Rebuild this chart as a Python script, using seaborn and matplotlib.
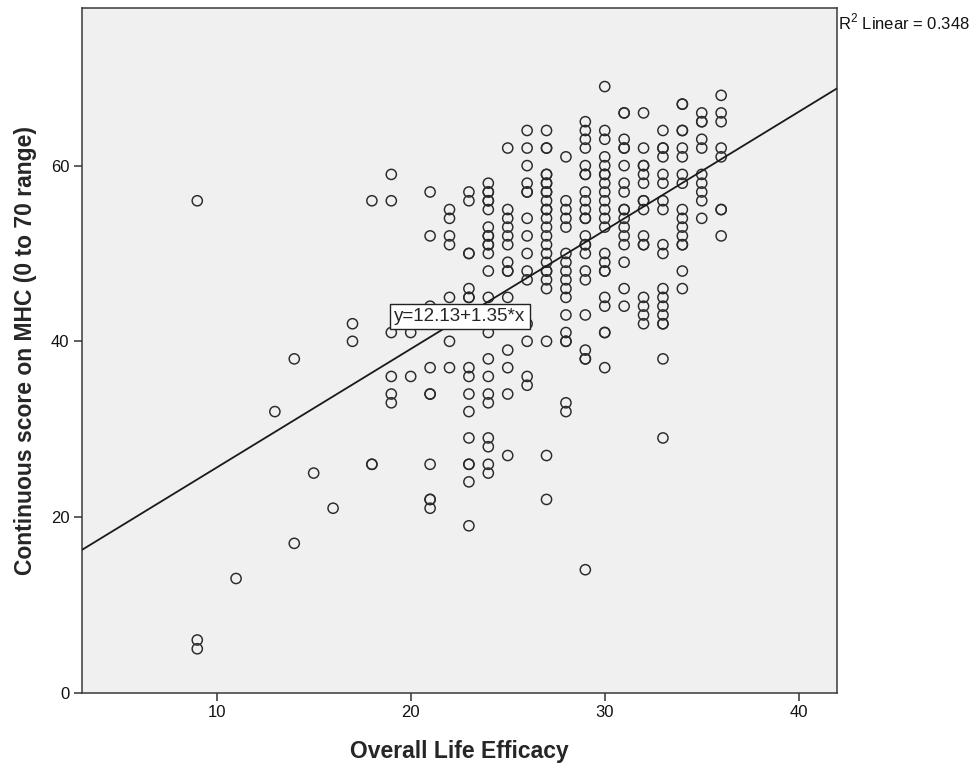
import numpy as np
import pandas as pd
import matplotlib
matplotlib.use("Agg")
import matplotlib.pyplot as plt
import seaborn as sns

# Overall Life Efficacy scores and the MHC scores observed at each of them
efficacy_levels = [9, 11, 13, 14, 15, 16, 17, 18, 19, 20, 21, 22, 23, 24, 25,
                   26, 27, 28, 29, 30, 31, 32, 33, 34, 35, 36]

mhc_by_level = [
    [56, 6, 5],                                                          # 9
    [13],                                                                # 11
    [32],                                                                # 13
    [38, 17],                                                            # 14
    [25],                                                                # 15
    [21],                                                                # 16
    [42, 40],                                                            # 17
    [56, 26, 26],                                                        # 18
    [59, 56, 41, 36, 34, 33],                                            # 19
    [41, 36],                                                            # 20
    [57, 52, 44, 37, 34, 34, 26, 22, 22, 21],                            # 21
    [55, 54, 52, 51, 45, 40, 37],                                        # 22
    [57, 56, 50, 50, 46, 45, 45, 37, 36, 34, 32, 29, 26, 26, 24, 19],    # 23
    [58, 57, 57, 56, 56, 55, 53, 52, 52, 51, 51, 50, 48, 45, 41, 38,
     36, 34, 33, 29, 28, 26, 25],                                        # 24
    [62, 55, 54, 53, 52, 51, 49, 48, 48, 45, 39, 37, 34, 27],            # 25
    [64, 62, 60, 58, 57, 57, 54, 52, 50, 48, 47, 42, 40, 36, 35],        # 26
    [64, 62, 62, 59, 59, 58, 58, 57, 57, 56, 55, 55, 54, 53, 52, 51,
     50, 49, 48, 48, 47, 46, 40, 27, 22],                                # 27
    [61, 56, 55, 54, 53, 50, 49, 48, 47, 46, 45, 43, 41, 40, 40, 33, 32],  # 28
    [65, 64, 63, 62, 60, 59, 59, 57, 56, 55, 54, 54, 52, 51, 51, 50,
     48, 47, 43, 39, 38, 38, 14],                                        # 29
    [69, 64, 63, 61, 60, 59, 59, 58, 57, 56, 55, 54, 53, 50, 49, 48,
     48, 45, 44, 41, 41, 37],                                            # 30
    [66, 66, 63, 62, 62, 60, 58, 57, 55, 55, 54, 53, 52, 51, 49, 46, 44],  # 31
    [66, 62, 60, 60, 59, 58, 56, 56, 55, 52, 51, 51, 45, 44, 43, 42],    # 32
    [64, 62, 62, 61, 59, 58, 56, 55, 51, 50, 46, 45, 44, 43, 42, 42,
     38, 29],                                                            # 33
    [67, 67, 64, 64, 62, 61, 59, 58, 55, 54, 53, 52, 51, 51, 48, 46],    # 34
    [66, 65, 65, 63, 62, 59, 58, 57, 56, 54],                            # 35
    [68, 66, 65, 62, 61, 55, 55, 52],                                    # 36
]

# Fitted linear model as reported
fit_intercept = 12.13
fit_slope = 1.35
r_squared = 0.348

x_ticks = [10, 20, 30, 40]
y_ticks = [0, 20, 40, 60]
x_label = "Overall Life Efficacy"
y_label = "Continuous score on MHC (0 to 70 range)"

df = pd.DataFrame(
    [(lvl, score) for lvl, scores in zip(efficacy_levels, mhc_by_level) for score in scores],
    columns=["efficacy", "mhc"],
)

sns.set_style("white")
plt.rcParams["font.family"] = ["Liberation Sans", "DejaVu Sans"]
plt.rcParams["mathtext.fontset"] = "custom"
plt.rcParams["mathtext.rm"] = "Liberation Sans"

fig = plt.figure(figsize=(9.79, 7.70), dpi=100)
ax = fig.add_axes([82 / 979, 1 - 692.7 / 770, (837 - 82) / 979, (692.7 - 7.5) / 770])
ax.set_facecolor("#f0f0f0")

sns.scatterplot(data=df, x="efficacy", y="mhc", ax=ax, marker="o", s=54,
                facecolor="none", edgecolor="#2a2a2a", linewidth=1.05, zorder=3)

ax.set_xlim(3.06, 41.97)
ax.set_ylim(0, 78.0)

xs = np.array(ax.get_xlim())
sns.lineplot(x=xs, y=fit_intercept + fit_slope * xs, ax=ax, color="#1a1a1a",
             linewidth=1.3, zorder=4)

ax.set_xticks(x_ticks)
ax.set_yticks(y_ticks)
ax.tick_params(axis="both", direction="out", length=6, width=1.1, color="#333333",
               labelsize=12, labelcolor="#111111", bottom=True, left=True,
               top=False, right=False, pad=3)
for side in ["left", "bottom", "top", "right"]:
    ax.spines[side].set_visible(True)
    ax.spines[side].set_color("#3a3a3a")
    ax.spines[side].set_linewidth(1.1)

ax.set_xlabel(x_label, fontsize=16.5, fontweight="bold")
ax.set_ylabel(y_label, fontsize=16.5, fontweight="bold")
ax.xaxis.set_label_coords(0.5, -0.069)
ax.yaxis.set_label_coords(-0.0596, 0.5)

ax.text(22.54, 42.8, f"y={fit_intercept:.2f}+{fit_slope:.2f}*x", fontsize=13.5,
        ha="center", va="center", zorder=5,
        bbox=dict(boxstyle="square,pad=0.22", facecolor="white",
                  edgecolor="#222222", linewidth=1.0))

fig.text(838 / 979, 1 - 22 / 770, f"R$^2$ Linear = {r_squared:.3f}", fontsize=12,
         ha="left", va="center", color="#111111")

fig.savefig("out.png", dpi=100)
